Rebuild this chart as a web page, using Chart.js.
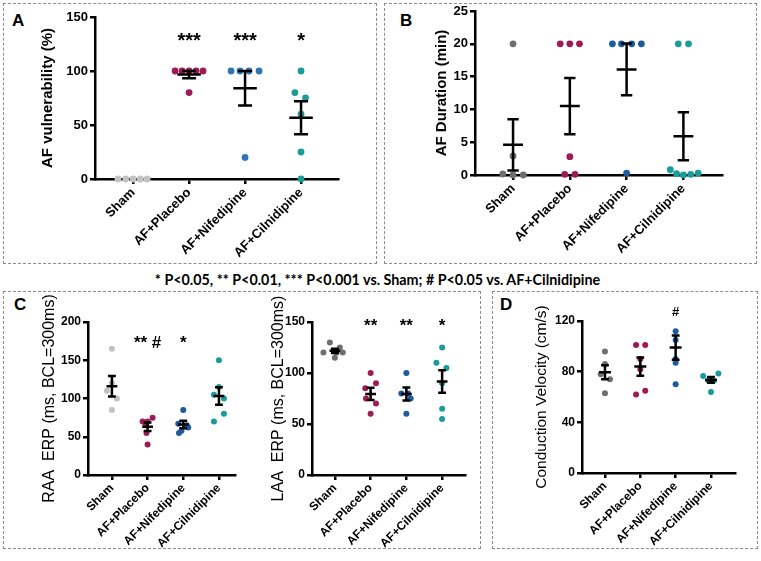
<!DOCTYPE html>
<html lang="en">
<head>
<meta charset="UTF-8" />
<title>AF figure</title>
<script src="https://cdn.jsdelivr.net/npm/chart.js"></script>
<style>
  body { margin: 0; width: 761px; height: 561px; position: relative; background: #fff; overflow: hidden;
         font-family: "Liberation Sans", Arial, sans-serif; }
  .box { position: absolute; border: 1px dashed #8c8c8c; }
  .tag { position: absolute; font-weight: bold; font-size: 17px; color: #000; }
  canvas { position: absolute; }
  #note { position: absolute; left: 0; width: 755px; top: 271px; text-align: center;
          font-family: Lato, "Open Sans", sans-serif; font-weight: bold; font-size: 14.3px; color: #000; }
</style>
</head>
<body>
<div class="box" style="left:3px;top:3px;width:372px;height:259px"></div>
<div class="box" style="left:384px;top:3px;width:371px;height:259px"></div>
<div class="box" style="left:3px;top:291px;width:476px;height:256px"></div>
<div class="box" style="left:492px;top:291px;width:264px;height:256px"></div>
<div class="tag" style="left:12px;top:11px">A</div>
<div class="tag" style="left:400px;top:11px">B</div>
<div class="tag" style="left:14px;top:295px">C</div>
<div class="tag" style="left:500px;top:295px">D</div>
<div id="note">* P&lt;0.05, ** P&lt;0.01, *** P&lt;0.001 vs. Sham; # P&lt;0.05 vs. AF+Cilnidipine</div>

<canvas id="chartA" width="372" height="258" style="left:4px;top:4px"></canvas>
<canvas id="chartB" width="370" height="262" style="left:386px;top:0px"></canvas>
<canvas id="chartC1" width="238" height="256" style="left:4px;top:292px"></canvas>
<canvas id="chartC2" width="236" height="256" style="left:242px;top:292px"></canvas>
<canvas id="chartD" width="264" height="256" style="left:493px;top:292px"></canvas>

<script>
  const groups = ["Sham", "AF+Placebo", "AF+Nifedipine", "AF+Cilnidipine"];

  // A - AF vulnerability (%)
  const vulnValues = [
    [0, 0, 0, 0, 0],
    [100, 100, 100, 100, 100, 80],
    [100, 100, 100, 100, 20],
    [100, 80, 75, 60, 25, 0],
  ];
  const vulnJitter = [
    [-0.27, -0.13, 0, 0.13, 0.25],
    [-0.25, -0.125, 0, 0.125, 0.25, 0],
    [-0.25, -0.09, 0.07, 0.25, 0],
    [0, -0.11, 0.08, 0, 0, 0],
  ];
  const vulnMean = [null, 96.7, 84, 56.7];
  const vulnSem = [0, 3.3, 16, 15.3];
  const vulnStars = ["", "***", "***", "*"];

  // B - AF duration (min)
  const durValues = [
    [20, 2.9, 0.15, 0, 0],
    [20, 20, 20, 2.8, 0.1, 0.1],
    [20, 20, 20, 20, 0.3],
    [20, 20, 0.8, 0.2, 0, 0.1, 0.3],
  ];
  const durJitter = [
    [0, 0, -0.18, 0, 0.18],
    [-0.17, 0, 0.17, 0, -0.09, 0.09],
    [-0.25, -0.09, 0.09, 0.26, 0],
    [-0.09, 0.09, -0.23, -0.12, 0, 0.13, 0.26],
  ];
  const durMean = [4.6, 10.5, 16.1, 5.9];
  const durSem = [3.9, 4.3, 3.95, 3.65];

  // C - RAA ERP (ms)
  const raaValues = [
    [165, 120, 110, 100, 85],
    [75, 70, 70, 65, 55, 40],
    [85, 67, 65, 62, 58, 55],
    [150, 115, 105, 100, 80, 70],
  ];
  const raaJitter = [
    [0, 0, -0.14, 0.14, 0],
    [0.14, -0.14, 0, -0.05, -0.03, 0],
    [0, -0.14, 0.1, 0.14, -0.05, -0.12],
    [0, 0, -0.14, 0.14, 0.14, -0.14],
  ];
  const raaMean = [116, 63, 66, 103.3];
  const raaSem = [13.5, 5.5, 5, 11.5];
  const raaStars = ["", "** #", "*", ""];

  // C - LAA ERP (ms)
  const laaValues = [
    [130, 125, 120, 120, 115, 120],
    [100, 90, 85, 75, 70, 60],
    [100, 80, 80, 75, 60],
    [125, 110, 105, 90, 65, 55],
  ];
  const laaJitter = [
    [-0.14, 0.14, -0.32, 0.22, 0, 0.05],
    [0, 0.15, -0.15, -0.13, 0.15, 0],
    [0, -0.14, 0.05, 0.12, 0],
    [0, -0.16, 0.12, 0, 0, 0],
  ];
  const laaMean = [121.7, 79.5, 79.4, 91.7];
  const laaSem = [2.1, 6, 6.3, 11];
  const laaStars = ["", "**", "**", "*"];

  // D - conduction velocity (cm/s)
  const cvValues = [
    [96, 86, 78, 74, 63],
    [101, 101, 90, 82, 65, 62],
    [112, 105, 90, 87, 70],
    [76.5, 73, 73, 78.5, 64],
  ];
  const cvJitter = [
    [0, 0, -0.12, 0.14, 0],
    [-0.12, 0.14, 0, 0, 0.14, -0.12],
    [0, 0, 0, 0, 0],
    [-0.22, -0.08, 0.085, 0.21, 0],
  ];
  const cvMean = [79.5, 84, 99, 73.5];
  const cvSem = [5.5, 7.2, 9.5, 2.3];
  const cvStars = ["", "", "#", ""];

  const lightGray = "#c2c2c2";
  const darkGray = "#6e6e6e";
  const plum = "#9e1b56";
  const blueA = "#2f74b5";
  const navy = "#1c5b9c";
  const teal = "#1a9c98";

  // mean +/- SEM bars and significance marks
  const errorBars = {
    id: "errorBars",
    afterDatasetsDraw(chart, args, o) {
      const { ctx } = chart;
      const x = chart.scales.x, y = chart.scales.y;
      ctx.save();
      ctx.strokeStyle = "#000";
      ctx.lineWidth = o.width;
      o.mean.forEach((m, g) => {
        if (m === null) return;
        const c = g + 1, s = o.sem[g];
        const px = x.getPixelForValue(c);
        const yHi = y.getPixelForValue(m + s);
        const yLo = y.getPixelForValue(m - s);
        const yM = y.getPixelForValue(m);
        const mw = x.getPixelForValue(c + o.meanHalf) - px;
        const cw = x.getPixelForValue(c + o.capHalf) - px;
        ctx.beginPath();
        ctx.moveTo(px, yHi); ctx.lineTo(px, yLo);
        ctx.moveTo(px - cw, yHi); ctx.lineTo(px + cw, yHi);
        ctx.moveTo(px - cw, yLo); ctx.lineTo(px + cw, yLo);
        ctx.moveTo(px - mw, yM); ctx.lineTo(px + mw, yM);
        ctx.stroke();
      });
      if (o.stars) {
        ctx.fillStyle = "#000";
        ctx.font = o.starFont;
        ctx.textAlign = "center";
        ctx.textBaseline = "middle";
        o.stars.forEach((t, g) => {
          if (t) ctx.fillText(t, x.getPixelForValue(g + 1), y.getPixelForValue(o.starY));
        });
      }
      ctx.restore();
    },
  };

  function drawPanel(tag, p) {
    const ctx = document.getElementById(tag);
    const datasets = p.values.map((vals, g) => ({
      data: vals.map((v, i) => ({ x: g + 1 + p.jitter[g][i], y: v })),
      backgroundColor: p.colors[g],
      borderWidth: 0,
      pointRadius: p.radius,
      pointHoverRadius: p.radius,
      clip: false,
    }));
    const tickFont = { family: "'Liberation Sans', Arial", weight: "bold", size: p.tickSize };
    new Chart(ctx, {
      type: "scatter",
      data: { datasets: datasets },
      options: {
        responsive: false,
        devicePixelRatio: 1,
        animation: false,
        events: [],
        layout: { padding: { left: 0, top: p.padTop, right: p.padRight, bottom: 0 } },
        plugins: {
          legend: { display: false },
          tooltip: { enabled: false },
          errorBars: {
            mean: p.mean, sem: p.sem, width: 2.5,
            meanHalf: p.meanHalf, capHalf: p.capHalf,
            stars: p.stars, starY: p.starY, starFont: p.starFont,
          },
        },
        scales: {
          x: {
            type: "linear",
            min: p.xMin,
            max: p.xMax,
            afterBuildTicks: (s) => { s.ticks = groups.map((_, i) => ({ value: i + 1 })); },
            afterFit: (s) => { s.height = p.xHeight; },
            ticks: {
              autoSkip: false,
              minRotation: 45,
              maxRotation: 45,
              padding: 1,
              color: "#000",
              font: tickFont,
              callback: (v) => groups[v - 1],
            },
            grid: { drawOnChartArea: false, color: "#000", lineWidth: 2.5, tickLength: 5 },
            border: { color: "#000", width: 2.5 },
          },
          y: {
            min: 0,
            max: p.yMax,
            afterFit: (s) => { s.width = p.yWidth; },
            ticks: { stepSize: p.yStep, padding: 2, color: "#000", font: tickFont },
            grid: { drawOnChartArea: false, color: "#000", lineWidth: 2.5, tickLength: 5 },
            border: { color: "#000", width: 2.5 },
            title: {
              display: true,
              text: p.title,
              color: "#000",
              font: { family: "'Liberation Sans', Arial", weight: p.titleWeight, size: p.titleSize },
              padding: { top: p.titlePad, bottom: 0 },
            },
          },
        },
      },
      plugins: [errorBars],
    });
  }

  drawPanel("chartA", {
    values: vulnValues, jitter: vulnJitter, mean: vulnMean, sem: vulnSem,
    colors: [lightGray, plum, blueA, teal],
    stars: vulnStars, starY: 127, starFont: "bold 20px 'Liberation Sans', Arial",
    title: "AF vulnerability (%)", titleSize: 15, titleWeight: "bold", titlePad: 35,
    yMax: 150, yStep: 50, xMin: 0.32, xMax: 4.66,
    padTop: 13, padRight: 38, yWidth: 91, xHeight: 83,
    tickSize: 13, radius: 3.4, meanHalf: 0.21, capHalf: 0.125,
  });

  drawPanel("chartB", {
    values: durValues, jitter: durJitter, mean: durMean, sem: durSem,
    colors: [darkGray, plum, navy, teal],
    stars: null,
    title: "AF Duration (min)", titleSize: 15, titleWeight: "bold", titlePad: 47,
    yMax: 25, yStep: 5, xMin: 0.33, xMax: 4.68,
    padTop: 11, padRight: 34, yWidth: 89, xHeight: 87,
    tickSize: 13, radius: 3.4, meanHalf: 0.175, capHalf: 0.1,
  });

  drawPanel("chartC1", {
    values: raaValues, jitter: raaJitter, mean: raaMean, sem: raaSem,
    colors: [lightGray, plum, navy, teal],
    stars: raaStars, starY: 172, starFont: "bold 17px 'Liberation Sans', Arial",
    title: "RAA  ERP (ms, BCL=300ms)", titleSize: 16, titleWeight: "normal", titlePad: 36.4,
    yMax: 200, yStep: 50, xMin: 0.33, xMax: 4.45,
    padTop: 30, padRight: 7, yWidth: 84, xHeight: 73,
    tickSize: 12, radius: 3, meanHalf: 0.15, capHalf: 0.11,
  });

  drawPanel("chartC2", {
    values: laaValues, jitter: laaJitter, mean: laaMean, sem: laaSem,
    colors: [darkGray, plum, navy, teal],
    stars: laaStars, starY: 146, starFont: "bold 17px 'Liberation Sans', Arial",
    title: "LAA  ERP (ms, BCL=300ms)", titleSize: 16, titleWeight: "normal", titlePad: 27,
    yMax: 150, yStep: 50, xMin: 0.36, xMax: 4.64,
    padTop: 30, padRight: 13, yWidth: 70, xHeight: 73,
    tickSize: 12, radius: 3, meanHalf: 0.15, capHalf: 0.11,
  });

  drawPanel("chartD", {
    values: cvValues, jitter: cvJitter, mean: cvMean, sem: cvSem,
    colors: [darkGray, plum, navy, teal],
    stars: cvStars, starY: 127, starFont: "bold 13px 'Liberation Sans', Arial",
    title: "Conduction Velocity (cm/s)", titleSize: 15.5, titleWeight: "normal", titlePad: 39.7,
    yMax: 120, yStep: 40, xMin: 0.35, xMax: 4.68,
    padTop: 29, padRight: 22, yWidth: 89, xHeight: 75,
    tickSize: 12, radius: 3, meanHalf: 0.17, capHalf: 0.11,
  });
</script>
</body>
</html>
